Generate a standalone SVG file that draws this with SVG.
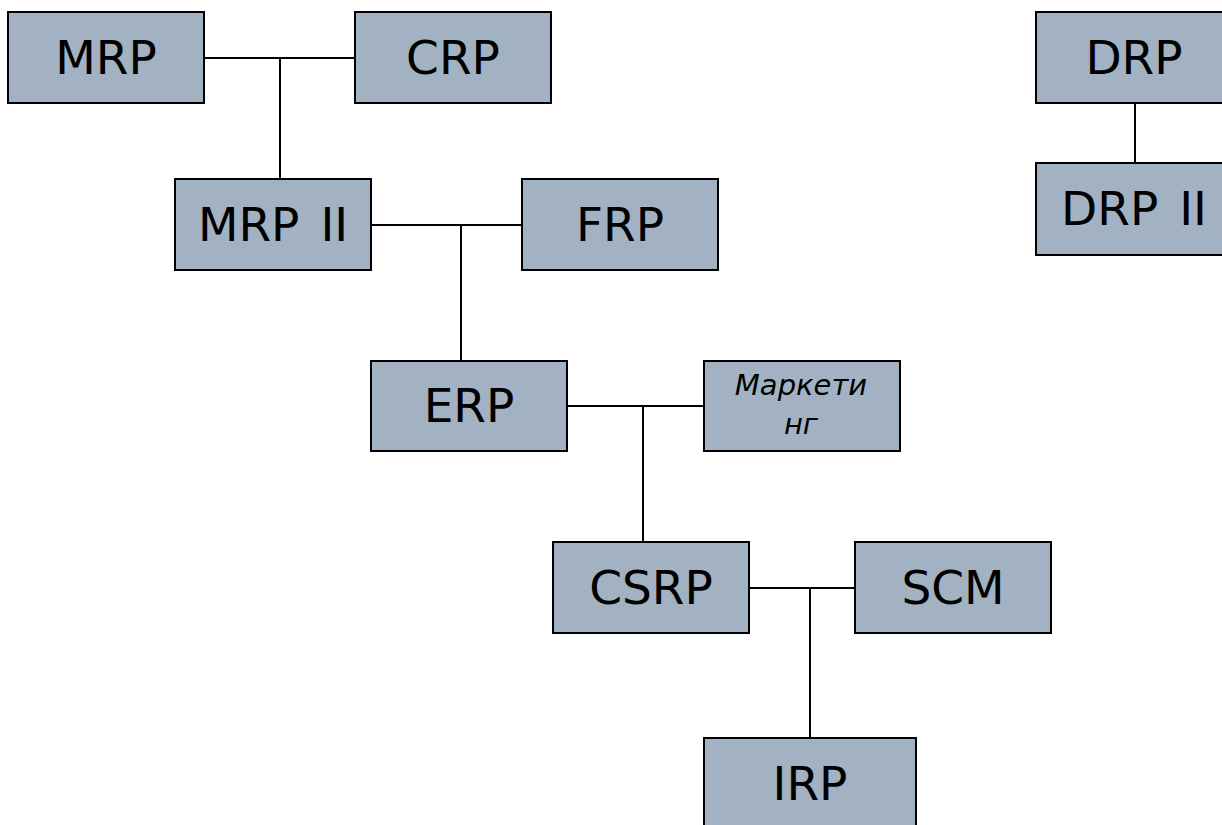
<svg xmlns="http://www.w3.org/2000/svg" width="1222" height="825" viewBox="0 0 1222 825">
<style>
.box{fill:#a3b2c2;stroke:#000;stroke-width:2}
.t{font-family:"DejaVu Sans",Verdana,sans-serif;font-size:47px;fill:#000;text-anchor:middle}
.ti{font-family:"DejaVu Sans",Verdana,sans-serif;font-size:29px;font-style:italic;fill:#000;text-anchor:middle}
.c{stroke:#000;stroke-width:2;fill:none}
.ws{letter-spacing:6px}
</style>
<rect width="1222" height="825" fill="#fff"/>
<g id="connectors">
<path class="c" d="M204 58H355M280 58V179"/>
<path class="c" d="M371 225H522M461 225V361"/>
<path class="c" d="M567 406H704M643 406V542"/>
<path class="c" d="M749 588H855M810 588V738"/>
<path class="c" d="M1135 103V163"/>
</g>
<g id="mrp"><rect class="box" x="8" y="12" width="196" height="91"/><text class="t" x="106" y="74">MRP</text></g>
<g id="crp"><rect class="box" x="355" y="12" width="196" height="91"/><text class="t" x="453" y="74">CRP</text></g>
<g id="mrp2"><rect class="box" x="175" y="179" width="196" height="91"/><text class="t" x="273" y="241">MRP<tspan class="ws"> </tspan>II</text></g>
<g id="frp"><rect class="box" x="522" y="179" width="196" height="91"/><text class="t" x="620" y="241">FRP</text></g>
<g id="erp"><rect class="box" x="371" y="361" width="196" height="90"/><text class="t" x="469" y="422">ERP</text></g>
<g id="marketing"><rect class="box" x="704" y="361" width="196" height="90"/><text class="ti" x="801" y="395">Маркети</text><text class="ti" x="801" y="434">нг</text></g>
<g id="csrp"><rect class="box" x="553" y="542" width="196" height="91"/><text class="t" x="651" y="604">CSRP</text></g>
<g id="scm"><rect class="box" x="855" y="542" width="196" height="91"/><text class="t" x="953" y="604">SCM</text></g>
<g id="irp"><rect class="box" x="704" y="738" width="212" height="100"/><text class="t" x="810" y="800">IRP</text></g>
<g id="drp"><rect class="box" x="1036" y="12" width="196" height="91"/><text class="t" x="1134" y="74">DRP</text></g>
<g id="drp2"><rect class="box" x="1036" y="163" width="196" height="92"/><text class="t" x="1134" y="225">DRP<tspan class="ws"> </tspan>II</text></g>
</svg>
